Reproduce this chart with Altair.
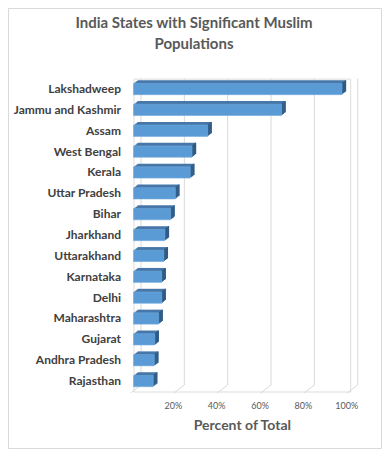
import altair as alt
import pandas as pd

states = ["Lakshadweep", "Jammu and Kashmir", "Assam", "West Bengal", "Kerala",
          "Uttar Pradesh", "Bihar", "Jharkhand", "Uttarakhand", "Karnataka",
          "Delhi", "Maharashtra", "Gujarat", "Andhra Pradesh", "Rajasthan"]
values = [0.962, 0.683, 0.342, 0.270, 0.262, 0.193, 0.171, 0.145, 0.140, 0.130,
          0.130, 0.116, 0.098, 0.096, 0.091]
grid_values = [0.0, 0.2, 0.4, 0.6, 0.8, 1.0]
title_lines = ["India States with Significant Muslim", "Populations"]

df = pd.DataFrame({"state": states, "value": values})
gdf = pd.DataFrame({"g": grid_values})
tdf = pd.DataFrame({"line": title_lines, "row": list(range(len(title_lines)))})

FONT = "Lato"
W = 216.7
H = 312.9
PL, PT = 125.5, 70.6
PR = 374 - PL - W
PB = 441 - PT - H

xs = alt.Scale(domain=[0, 1], nice=False, zero=True)
ys = alt.Scale(domain=states, paddingInner=0.46, paddingOuter=0.23)

xenc = alt.X("value:Q", scale=xs,
             axis=alt.Axis(values=[0.2, 0.4, 0.6, 0.8, 1.0], format="%", grid=False,
                           domain=False, ticks=False, labelFont=FONT, labelFontSize=9,
                           labelColor="#595959", labelPadding=10, labelOffset=-4,
                           labelFlush=False,
                           title="Percent of Total", titleFont=FONT, titleFontSize=14,
                           titleFontWeight="bold", titleColor="#595959", titlePadding=8))
yenc = alt.Y("state:N", scale=ys, sort=states,
             axis=alt.Axis(title=None, domain=False, ticks=False, grid=False,
                           labelFont=FONT, labelFontSize=12, labelFontWeight="bold",
                           labelColor="#404040", labelPadding=13))

base = alt.Chart(df)

border = alt.Chart(gdf).transform_filter("datum.g == 0").mark_rect(
    fill=None, stroke="#d9d9d9", strokeWidth=1
).encode(x=alt.value(-125), x2=alt.value(248), y=alt.value(-70.1), y2=alt.value(369.9))

title_layers = []
for i, yv in enumerate([-55.6, -34.6]):
    title_layers.append(
        alt.Chart(tdf).transform_filter(f"datum.row == {i}").mark_text(
            font=FONT, fontSize=15, fontWeight="bold", color="#595959",
            align="center", baseline="middle").encode(
            text="line:N", x=alt.value(60.5), y=alt.value(yv))
    )

gridv = alt.Chart(gdf).mark_rule(color="#d9d9d9", strokeWidth=1, xOffset=7.5).encode(
    x=alt.X("g:Q", scale=xs), y=alt.value(0), y2=alt.value(306.4))
gridd = alt.Chart(gdf).mark_rule(color="#d9d9d9", strokeWidth=1, xOffset=7.5, x2Offset=-3).encode(
    x=alt.X("g:Q", scale=xs), x2="g:Q", y=alt.value(306.4), y2=alt.value(314.5))

layers = [border] + title_layers + [gridv, gridd]
for k in [1, 2, 3, 4]:
    layers.append(base.mark_bar(color="#4677a8", xOffset=k, x2Offset=k,
                                yOffset=-0.8 * k, y2Offset=-0.8 * k).encode(x=xenc, y=yenc))
for k in [0, 1, 2, 3]:
    layers.append(base.mark_bar(color="#2f5b85", xOffset=k, x2Offset=k + 1.2,
                                yOffset=-0.8 * (k + 1), y2Offset=-0.8 * (k + 1)).encode(
        x=alt.X("value:Q", scale=xs), x2="value:Q", y=yenc))
front = base.mark_bar(color="#5b9bd5", stroke="#6fa9dd", strokeWidth=0.6).encode(x=xenc, y=yenc)
layers.append(front)

chart = alt.layer(*layers).properties(
    width=W, height=H,
    autosize=alt.AutoSizeParams(type="none"),
    padding={"left": PL, "top": PT, "right": PR, "bottom": PB},
).configure_view(stroke=None).configure(background="white")

chart.save("out.html", embed_options={"renderer": "svg", "actions": False})
